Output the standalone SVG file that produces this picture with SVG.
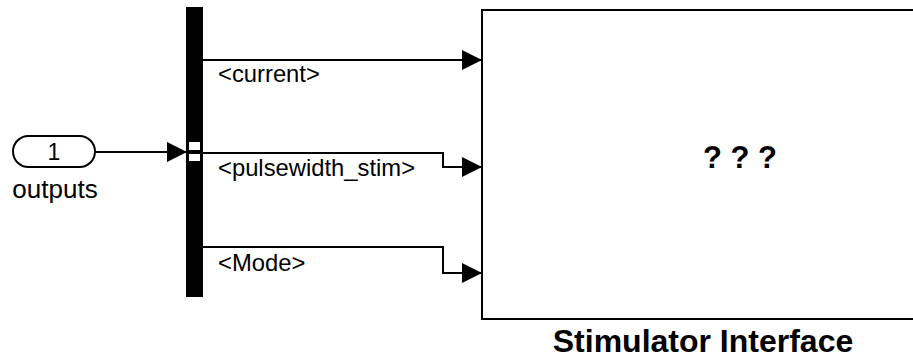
<svg xmlns="http://www.w3.org/2000/svg" width="913" height="362" viewBox="0 0 913 362">
<style>
.t{font-family:"Liberation Sans",Arial,Helvetica,sans-serif;fill:#000}
.lbl{font-size:23.8px}
.b{font-weight:bold}
.w{fill:none;stroke:#000;stroke-width:2}
.ah{fill:#000}
</style>
<defs>
<marker id="arr" viewBox="0 0 20 20" refX="20" refY="10" markerWidth="20" markerHeight="20" markerUnits="userSpaceOnUse" orient="auto">
<path d="M0,0 L20,10 L0,20 Z" class="ah"/>
</marker>
</defs>
<rect width="913" height="362" fill="#fff"/>
<g id="inport">
<rect x="13" y="136" width="82" height="31" rx="15.5" ry="15.5" fill="#fff" stroke="#000" stroke-width="2"/>
<text class="t" x="54" y="160" font-size="23" text-anchor="middle">1</text>
<text class="t" x="55" y="198" font-size="26" text-anchor="middle">outputs</text>
</g>
<g id="busselector">
<rect x="186" y="7" width="17" height="290" fill="#000"/>
<rect x="189" y="142" width="11" height="8" fill="#fff"/>
<rect x="189" y="154" width="11" height="7" fill="#fff"/>
</g>
<g id="stimulator">
<rect x="482" y="10" width="520" height="309" fill="#fff" stroke="#000" stroke-width="2"/>
<text class="t b" x="740" y="168" font-size="31" text-anchor="middle">? ? ?</text>
<text class="t b" x="703" y="352" font-size="32" text-anchor="middle">Stimulator Interface</text>
</g>
<g id="connectors">
<path class="w" d="M96,152 H187" marker-end="url(#arr)"/>
<path class="w" d="M203,60 H482" marker-end="url(#arr)"/>
<path class="w" d="M203,153 H443 V167 H482" marker-end="url(#arr)"/>
<path class="w" d="M203,247 H443 V273 H482" marker-end="url(#arr)"/>
<text class="t lbl" x="218" y="82">&lt;current&gt;</text>
<text class="t lbl" x="218" y="176">&lt;pulsewidth_stim&gt;</text>
<text class="t lbl" x="218" y="271">&lt;Mode&gt;</text>
</g>
</svg>
